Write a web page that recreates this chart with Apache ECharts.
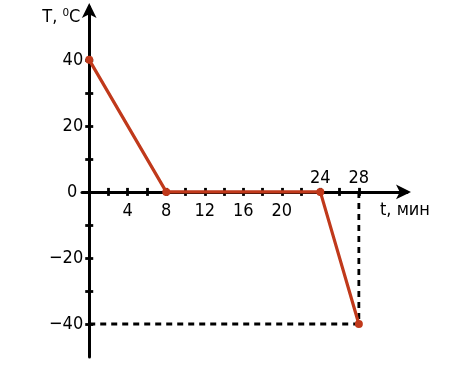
<!DOCTYPE html>
<html>
<head>
<meta charset="utf-8">
<script src="https://cdn.jsdelivr.net/npm/echarts@6/dist/echarts.min.js"></script>
<style>html,body{margin:0;padding:0;background:#fff}#c{width:469px;height:372px}</style>
</head>
<body>
<div id="c"></div>
<script>
// Data
const tempPoints = [[0, 40], [8, 0], [24, 0], [28, -40]];
const dashedH = [[0, -40], [28, -40]];
const dashedV = [[28, 0], [28, -40]];
const xTicks = [2, 4, 6, 8, 10, 12, 14, 16, 18, 20, 22, 24, 26, 28];
const xLabelsBelow = [4, 8, 12, 16, 20];
const xLabelsAbove = [24, 28];
const yTicks = [-40, -30, -20, -10, 10, 20, 30, 40];
const yLabels = [-40, -20, 0, 20, 40];

const FONT = '"Liberation Sans Narrow", "Arial Narrow", "DejaVu Sans Condensed", sans-serif';
const FS = 18;
const fmt = v => (v < 0 ? '\u2212' + Math.abs(v) : String(v));
const fmtY = v => (v === 0 ? '{z|0}' : fmt(v));

// layout (pixels)
const G = { left: 82, top: 7, width: 325, height: 350 };
const X_MIN = -0.75, X_MAX = 33, Y_MIN = -50, Y_MAX = 56;
// place axes through the origin using offsets from the grid edges
const xOffset = -(G.height * (0 - Y_MIN) / (Y_MAX - Y_MIN));
const yOffset = -(G.width * (0 - X_MIN) / (X_MAX - X_MIN));

const chart = echarts.init(document.getElementById('c'));
const tickStyle = { color: '#000', width: 2.8 };
const labelBase = { color: '#000', fontSize: FS, fontFamily: FONT, formatter: fmt };
chart.setOption({
  animation: false,
  grid: Object.assign({ outerBoundsMode: 'none', containLabel: false }, G),
  xAxis: [
    {
      type: 'value', min: X_MIN, max: X_MAX, position: 'bottom', offset: xOffset,
      axisLine: { show: true, onZero: false, symbol: ['none', 'arrow'], symbolSize: [11, 15], symbolOffset: [0, 4], lineStyle: { color: '#000', width: 3 } },
      axisTick: { show: true, inside: false, length: 4, lineStyle: tickStyle, customValues: xTicks },
      axisLabel: Object.assign({ show: true, margin: 10, customValues: xLabelsBelow }, labelBase),
      splitLine: { show: false },
      name: 't, мин', nameLocation: 'end', nameGap: -27,
      nameTextStyle: { color: '#000', fontSize: FS, fontFamily: FONT, align: 'left', verticalAlign: 'top', padding: [9, 0, 0, 0] }
    },
    {
      type: 'value', min: X_MIN, max: X_MAX, position: 'bottom', offset: xOffset,
      axisLine: { show: false, onZero: false },
      axisTick: { show: true, inside: true, length: 4, lineStyle: tickStyle, customValues: xTicks },
      axisLabel: Object.assign({ show: true, inside: true, margin: 5, customValues: xLabelsAbove }, labelBase),
      splitLine: { show: false }
    }
  ],
  yAxis: [
    {
      type: 'value', min: Y_MIN, max: Y_MAX, position: 'left', offset: yOffset,
      axisLine: { show: true, onZero: false, symbol: ['none', 'arrow'], symbolSize: [11, 15], symbolOffset: [0, 4], lineStyle: { color: '#000', width: 3 } },
      axisTick: { show: true, inside: false, length: 4, lineStyle: tickStyle, customValues: yTicks },
      axisLabel: Object.assign({}, labelBase, { show: true, margin: 6, customValues: yLabels, formatter: fmtY,
        rich: { z: { color: '#000', fontSize: FS, fontFamily: FONT, padding: [0, 6, 0, 0] } } }),
      splitLine: { show: false },
      name: 'T, \u2070C', nameLocation: 'end', nameGap: -10,
      nameTextStyle: { color: '#000', fontSize: FS, fontFamily: FONT, align: 'right', verticalAlign: 'middle', padding: [0, 9, 0, 0] }
    },
    {
      type: 'value', min: Y_MIN, max: Y_MAX, position: 'left', offset: yOffset,
      axisLine: { show: false, onZero: false },
      axisTick: { show: true, inside: true, length: 4, lineStyle: tickStyle, customValues: yTicks },
      axisLabel: { show: false },
      splitLine: { show: false }
    }
  ],
  series: [
    {
      type: 'line', data: dashedH, symbol: 'none', z: 1,
      lineStyle: { color: '#000', width: 2.8, type: [6, 5] }
    },
    {
      type: 'line', data: dashedV, symbol: 'none', z: 1,
      lineStyle: { color: '#000', width: 2.8, type: [6, 5] }
    },
    {
      type: 'line', data: tempPoints, symbol: 'circle', symbolSize: 8, z: 5,
      lineStyle: { color: '#c0391b', width: 3.2 },
      itemStyle: { color: '#c0391b' }
    }
  ]
});
</script>
</body>
</html>
